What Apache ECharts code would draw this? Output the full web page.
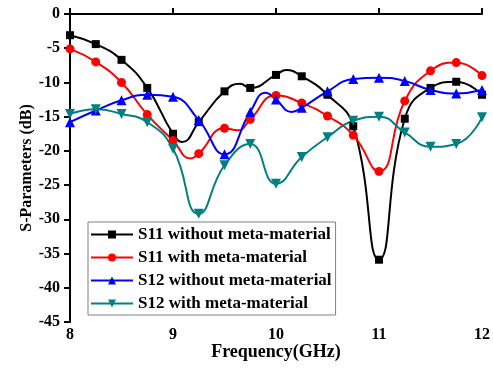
<!DOCTYPE html>
<html>
<head>
<meta charset="utf-8">
<script src="https://cdn.jsdelivr.net/npm/echarts@6/dist/echarts.min.js"></script>
<style>
  html, body { margin: 0; padding: 0; background: #fff; }
  #chart { width: 493px; height: 376px; }
</style>
</head>
<body>
<div id="chart"></div>
<script>
// frequency points (GHz), one marker every 0.25
const freq = [8, 8.25, 8.5, 8.75, 9, 9.25, 9.5, 9.75, 10, 10.25, 10.5, 10.75, 11, 11.25, 11.5, 11.75, 12];

const s11Without = [-3.1, -4.4, -6.7, -10.8, -17.5, -15.8, -11.3, -10.8, -8.9, -9.1, -11.8, -16.4, -35.9, -15.3, -10.8, -9.9, -11.8];
const s11With    = [-5.1, -7.0, -10.0, -14.7, -18.5, -20.4, -16.7, -15.4, -11.9, -13.0, -14.9, -17.7, -23.0, -12.7, -8.3, -7.1, -9.0];
const s12Without = [-15.8, -14.1, -12.6, -11.8, -12.1, -15.5, -20.5, -14.3, -12.5, -13.7, -11.3, -9.5, -9.3, -9.8, -11.1, -11.6, -11.1];
const s12With    = [-14.6, -13.9, -14.6, -15.8, -19.7, -29.2, -22.1, -19.0, -24.8, -20.9, -18.0, -15.6, -15.0, -17.3, -19.4, -19.0, -15.1];

// turning points of the curves read between markers (drawn without a symbol)
const s11WithoutBends = [[9.09, -18.7], [9.65, -10.2], [10.1, -8.2]];
const s11WithBends    = [[9.17, -21.1], [9.63, -17.0]];
const s12WithoutBends = [[9.9, -11.5], [10.15, -14.3]];
const s12WithBends    = [];

const seriesNames = [
  'S11 without meta-material',
  'S11 with meta-material',
  'S12 without meta-material',
  'S12 with meta-material'
];

const buildData = (vals, bends) => {
  const pts = freq.map((f, i) => ({ value: [f, vals[i]] }));
  bends.forEach(b => pts.push({ value: b, symbol: 'none' }));
  return pts.sort((a, b) => a.value[0] - b.value[0]);
};

const font = 'Liberation Serif, Times New Roman, serif';

const mkSeries = (name, vals, bends, color, symbol, size) => ({
  name: name,
  type: 'line',
  data: buildData(vals, bends),
  smooth: 0.5,
  symbol: symbol,
  symbolSize: size,
  showAllSymbol: true,
  lineStyle: { color: color, width: 2 },
  itemStyle: { color: color },
  emphasis: { disabled: true }
});

const chart = echarts.init(document.getElementById('chart'));
chart.setOption({
  animation: false,
  backgroundColor: '#fff',
  textStyle: { fontFamily: font },
  grid: { left: 70, right: 8, top: 14, bottom: 54 },
  legend: {
    orient: 'vertical',
    left: 88,
    top: 222,
    itemWidth: 42,
    itemHeight: 10,
    itemGap: 6,
    padding: [4, 4, 3, 2],
    borderColor: '#808080',
    borderWidth: 1,
    backgroundColor: '#fff',
    textStyle: { fontFamily: font, fontWeight: 'bold', fontSize: 17, color: '#000' },
    data: seriesNames
  },
  xAxis: {
    type: 'value',
    min: 8,
    max: 12,
    interval: 1,
    name: 'Frequency(GHz)',
    nameLocation: 'middle',
    nameGap: 21,
    nameMoveOverlap: false,
    nameTextStyle: { fontFamily: font, fontWeight: 'bold', fontSize: 18, color: '#000' },
    axisLine: { lineStyle: { color: '#000', width: 2 } },
    axisTick: { inside: true, length: 6, lineStyle: { color: '#000', width: 2 } },
    axisLabel: { fontFamily: font, fontWeight: 'bold', fontSize: 16, color: '#000', margin: 5 },
    splitLine: { show: false }
  },
  yAxis: {
    type: 'value',
    min: -45,
    max: 0,
    interval: 5,
    name: 'S-Parameters (dB)',
    nameLocation: 'middle',
    nameGap: 35,
    nameMoveOverlap: false,
    nameTextStyle: { fontFamily: font, fontWeight: 'bold', fontSize: 16, color: '#000' },
    axisLine: { show: true, lineStyle: { color: '#000', width: 2 } },
    axisTick: { show: true, length: 6, lineStyle: { color: '#000', width: 2 } },
    axisLabel: { fontFamily: font, fontWeight: 'bold', fontSize: 16, color: '#000', margin: 10 },
    splitLine: { show: false }
  },
  series: [
    mkSeries(seriesNames[0], s11Without, s11WithoutBends, '#000000', 'rect', 8),
    mkSeries(seriesNames[1], s11With, s11WithBends, '#ff0000', 'circle', 9),
    mkSeries(seriesNames[2], s12Without, s12WithoutBends, '#0000ff', 'triangle', 10),
    mkSeries(seriesNames[3], s12With, s12WithBends, '#008080', 'path://M0,0 L10,0 L5,10 Z', 10)
  ]
});
</script>
</body>
</html>
